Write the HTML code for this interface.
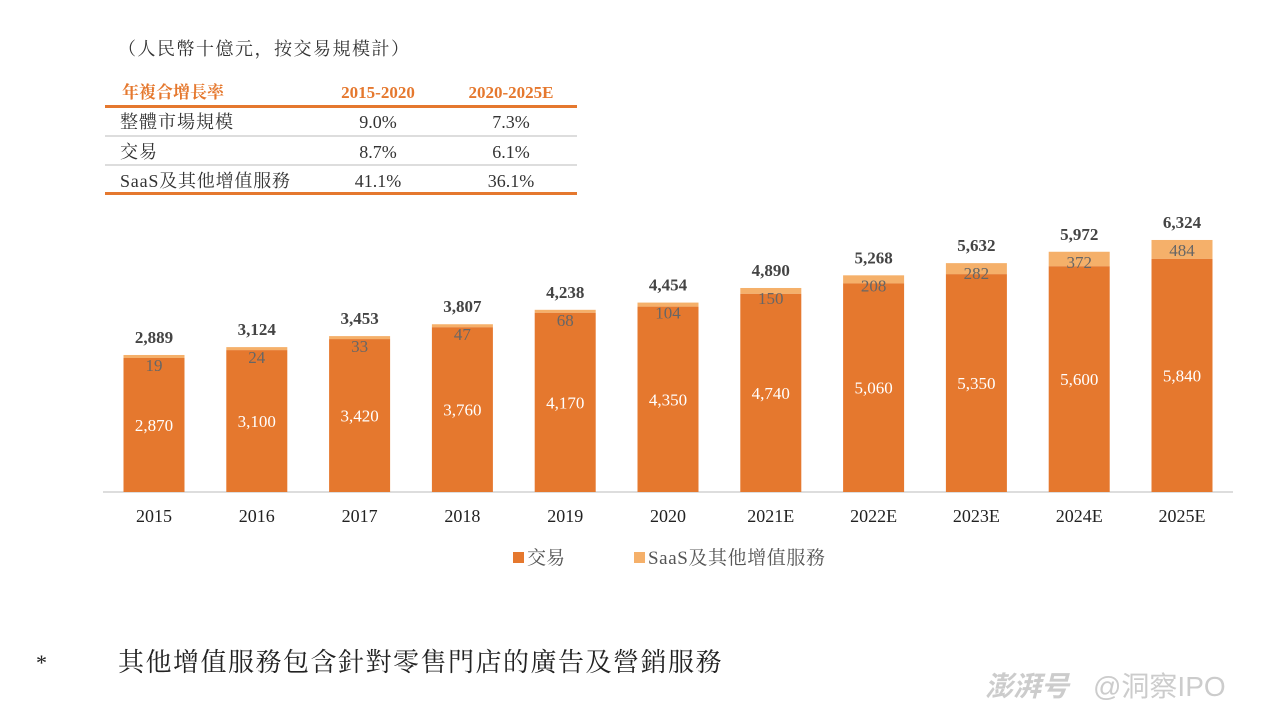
<!DOCTYPE html>
<html><head><meta charset="utf-8"><style>
html,body{margin:0;padding:0;background:#fff;width:1263px;height:709px;overflow:hidden}
svg{display:block}
.s{font-family:"Liberation Serif","Noto Serif CJK SC","Noto Sans CJK TC",serif}
</style></head><body>
<svg width="1263" height="709" viewBox="0 0 1263 709" class="s">
<text x="118" y="55" font-size="18" letter-spacing="1.5" fill="#333">（人民幣十億元，按交易規模計）</text>
<g font-size="17" font-weight="bold" fill="#E5782E">
<text x="122" y="98">年複合增長率</text>
<text x="378" y="98" text-anchor="middle">2015-2020</text>
<text x="511" y="98" text-anchor="middle">2020-2025E</text>
</g>
<rect x="105" y="105" width="472" height="3" fill="#E5782E"/>
<rect x="105" y="135" width="472" height="2" fill="#ddd"/>
<rect x="105" y="164" width="472" height="2" fill="#ddd"/>
<rect x="105" y="192" width="472" height="3" fill="#E5782E"/>
<g font-size="18" fill="#333">
<text x="120" y="128" letter-spacing="1">整體市場規模</text><text x="378" y="128" text-anchor="middle">9.0%</text><text x="511" y="128" text-anchor="middle">7.3%</text>
<text x="120" y="158" letter-spacing="1">交易</text><text x="378" y="158" text-anchor="middle">8.7%</text><text x="511" y="158" text-anchor="middle">6.1%</text>
<text x="120" y="187" letter-spacing="0.8">SaaS及其他增值服務</text><text x="378" y="187" text-anchor="middle">41.1%</text><text x="511" y="187" text-anchor="middle">36.1%</text>
</g>
<rect x="103" y="491" width="1130" height="2" fill="#ddd"/>
<g id="bars"></g>
<rect x="513" y="552" width="11" height="11" fill="#E5782E"/>
<text x="527" y="564" font-size="19" fill="#555">交易</text>
<rect x="634" y="552" width="11" height="11" fill="#F5B06A"/>
<text x="648" y="564" font-size="19" letter-spacing="0.6" fill="#555">SaaS及其他增值服務</text>
<text x="36" y="670" font-size="22" fill="#222">*</text>
<text x="118" y="671" font-size="26" letter-spacing="1.5" fill="#222">其他增值服務包含針對零售門店的廣告及營銷服務</text>
<text x="985" y="696" font-size="28" font-style="italic" font-weight="bold" fill="#ccc" font-family="Liberation Sans,Noto Sans CJK SC,sans-serif">澎湃号</text>
<text x="1093" y="696" font-size="28" fill="#ccc" font-family="Liberation Sans,Noto Sans CJK SC,sans-serif">@洞察IPO</text>
</svg>
<script>
var d=[["2015",2870,19,"2,889"],["2016",3100,24,"3,124"],["2017",3420,33,"3,453"],["2018",3760,47,"3,807"],["2019",4170,68,"4,238"],["2020",4350,104,"4,454"],["2021E",4740,150,"4,890"],["2022E",5060,208,"5,268"],["2023E",5350,282,"5,632"],["2024E",5600,372,"5,972"],["2025E",5840,484,"6,324"]];
var s="";
d.forEach(function(r,i){var c=154+i*102.8,t=r[1]+r[2],h=40.3+0.03348*t,top=492-h,sh=Math.max(3,0.039*r[2]),x=c-30.5;
s+='<rect x="'+x+'" y="'+top+'" width="61" height="'+sh+'" fill="#F5B06A"/>';
s+='<rect x="'+x+'" y="'+(top+sh)+'" width="61" height="'+(h-sh)+'" fill="#E5782E"/>';
s+='<text x="'+c+'" y="'+(top-12)+'" font-size="17" font-weight="bold" fill="#444" text-anchor="middle">'+r[3]+'</text>';
s+='<text x="'+c+'" y="'+(top+16)+'" font-size="17" fill="#666" text-anchor="middle">'+r[2]+'</text>';
s+='<text x="'+c+'" y="'+((top+sh+492)/2+6)+'" font-size="17" fill="#fff" text-anchor="middle">'+r[1].toLocaleString("en-US")+'</text>';
s+='<text x="'+c+'" y="522" font-size="18" fill="#222" text-anchor="middle">'+r[0]+'</text>';});
document.getElementById("bars").innerHTML=s;
</script>
</body></html>
